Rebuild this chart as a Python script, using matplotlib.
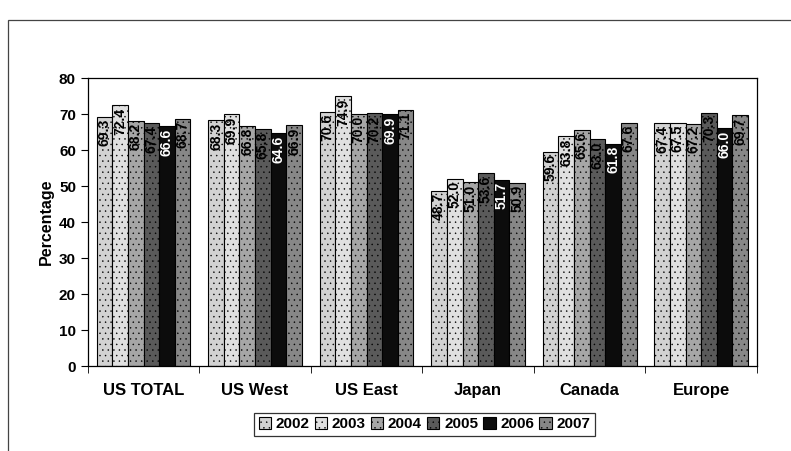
import matplotlib.pyplot as plt
import matplotlib.patches as patches
import numpy as np

plt.rcParams['font.family'] = ['Liberation Sans', 'DejaVu Sans']

regions = ['US TOTAL', 'US West', 'US East', 'Japan', 'Canada', 'Europe']
years = ['2002', '2003', '2004', '2005', '2006', '2007']

v2002 = [69.3, 68.3, 70.6, 48.7, 59.6, 67.4]
v2003 = [72.4, 69.9, 74.9, 52.0, 63.8, 67.5]
v2004 = [68.2, 66.8, 70.0, 51.0, 65.6, 67.2]
v2005 = [67.4, 65.8, 70.2, 53.6, 63.0, 70.3]
v2006 = [66.6, 64.6, 69.9, 51.7, 61.8, 66.0]
v2007 = [68.7, 66.9, 71.1, 50.9, 67.6, 69.7]
series = [v2002, v2003, v2004, v2005, v2006, v2007]

colors = ['#d2d2d2', '#e0e0e0', '#a6a6a6', '#5a5a5a', '#0c0c0c', '#878787']
hatches = ['...', '...', '...', '...', '', '...']
label_colors = ['black', 'black', 'black', 'black', 'white', 'black']

dpi = 100
fig = plt.figure(figsize=(7.91, 4.51), dpi=dpi)

# outer chart frame (bottom edge runs off the scan)
fig.patches.append(patches.Rectangle((0.010, -0.02), 1.0, 0.975, transform=fig.transFigure,
                                     fill=False, edgecolor='#444444', linewidth=0.9))

ax = fig.add_axes([0.111, 0.188, 0.846, 0.639])
x = np.arange(len(regions))
width = 0.14
plt.rcParams['hatch.color'] = '#f4f4f4'
plt.rcParams['hatch.linewidth'] = 0.3

for i, vals in enumerate(series):
    pos = x - 0.35 + i * width
    bars = ax.bar(pos, vals, width, color=colors[i], edgecolor='black', linewidth=0.8,
                  hatch=hatches[i], label=years[i])
    for b, v in zip(bars, vals):
        ax.text(b.get_x() + b.get_width() / 2, v - 0.6, f'{v:.1f}', rotation=90,
                ha='center', va='top', fontsize=10, fontweight='bold', color=label_colors[i])

ax.set_xlim(-0.5, len(regions) - 0.5)
ax.set_ylim(0, 80)
ax.set_yticks(range(0, 81, 10))
ax.set_xticks(x)
ax.set_xticklabels(regions, fontsize=12, fontweight='bold')
ax.set_xticks(np.arange(-0.5, len(regions)), minor=True)
ax.tick_params(axis='x', which='major', length=0, pad=12)
ax.tick_params(axis='x', which='minor', length=5)
ax.tick_params(axis='y', labelsize=11, length=5)
for lbl in ax.get_yticklabels():
    lbl.set_fontweight('bold')
ax.set_ylabel('Percentage', fontsize=11.5, fontweight='bold')
for s in ax.spines.values():
    s.set_linewidth(0.9)

leg = ax.legend(loc='upper center', bbox_to_anchor=(0.503, -0.135), ncol=6, fontsize=11,
                frameon=True, fancybox=False, edgecolor='black', handlelength=0.8,
                handleheight=0.8, handletextpad=0.3, columnspacing=0.35, borderpad=0.3)
for t in leg.get_texts():
    t.set_fontweight('bold')
leg.get_frame().set_linewidth(0.9)

fig.savefig('out.png', dpi=dpi)
